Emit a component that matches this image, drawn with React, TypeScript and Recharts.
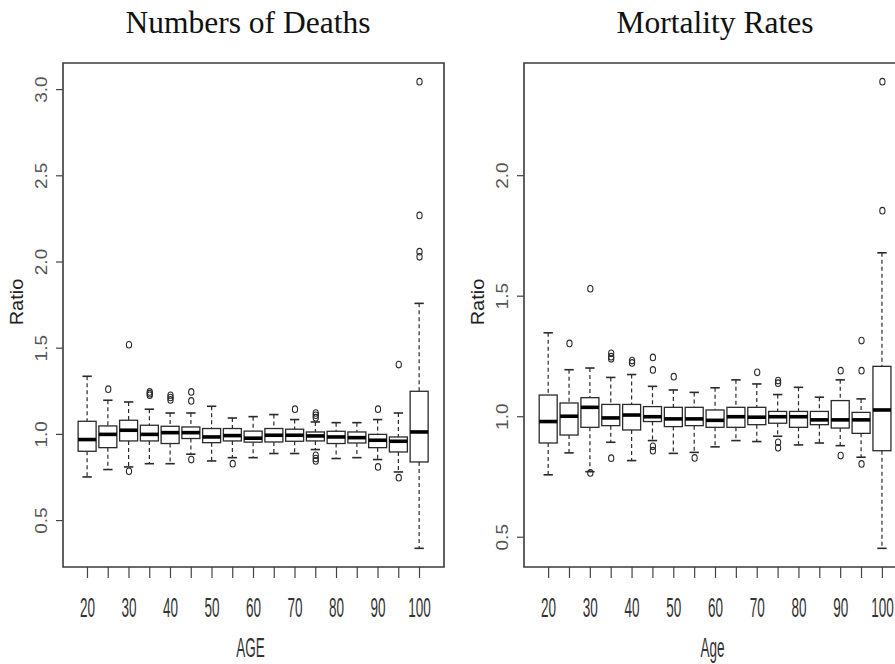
import React from 'react';
import { ComposedChart, Bar, Scatter, XAxis, YAxis, ReferenceArea } from 'recharts';

// Age groups (one box per five-year group)
const AGES = [20, 25, 30, 35, 40, 45, 50, 55, 60, 65, 70, 75, 80, 85, 90, 95, 100];

// Numbers of deaths: whisker ends, quartiles and medians of the ratio
const DEATHS_LOW = [0.753, 0.796, 0.811, 0.83, 0.83, 0.885, 0.846, 0.865, 0.865, 0.889, 0.889, 0.912, 0.86, 0.865, 0.854, 0.782, 0.339];
const DEATHS_Q1 = [0.902, 0.923, 0.962, 0.962, 0.947, 0.976, 0.952, 0.962, 0.955, 0.956, 0.96, 0.962, 0.947, 0.95, 0.923, 0.898, 0.84];
const DEATHS_MEDIAN = [0.97, 1.0, 1.024, 1.0, 1.01, 1.01, 0.985, 0.993, 0.978, 0.995, 0.995, 0.991, 0.985, 0.981, 0.966, 0.96, 1.014];
const DEATHS_Q3 = [1.076, 1.049, 1.082, 1.053, 1.047, 1.043, 1.034, 1.034, 1.019, 1.034, 1.03, 1.014, 1.018, 1.014, 1.0, 0.985, 1.25];
const DEATHS_HIGH = [1.337, 1.198, 1.188, 1.146, 1.124, 1.124, 1.163, 1.095, 1.103, 1.115, 1.086, 1.072, 1.068, 1.068, 1.086, 1.124, 1.76];
const DEATHS_OUTLIERS = [
  { age: 25, value: 1.262 },
  { age: 30, value: 1.52 }, { age: 30, value: 0.786 },
  { age: 35, value: 1.246 }, { age: 35, value: 1.236 }, { age: 35, value: 1.227 },
  { age: 40, value: 1.227 }, { age: 40, value: 1.214 }, { age: 40, value: 1.2 },
  { age: 45, value: 1.246 }, { age: 45, value: 1.194 }, { age: 45, value: 0.854 },
  { age: 55, value: 0.83 },
  { age: 70, value: 1.146 },
  { age: 75, value: 1.124 }, { age: 75, value: 1.111 }, { age: 75, value: 1.097 },
  { age: 75, value: 0.879 }, { age: 75, value: 0.86 }, { age: 75, value: 0.846 },
  { age: 90, value: 1.146 }, { age: 90, value: 0.811 },
  { age: 95, value: 1.405 }, { age: 95, value: 0.749 },
  { age: 100, value: 3.046 }, { age: 100, value: 2.27 }, { age: 100, value: 2.06 }, { age: 100, value: 2.03 },
];

// Mortality rates: whisker ends, quartiles and medians of the ratio
const RATES_LOW = [0.759, 0.85, 0.772, 0.894, 0.818, 0.901, 0.848, 0.852, 0.875, 0.901, 0.897, 0.919, 0.883, 0.891, 0.88, 0.832, 0.454];
const RATES_Q1 = [0.891, 0.924, 0.956, 0.963, 0.945, 0.98, 0.959, 0.963, 0.956, 0.956, 0.967, 0.973, 0.956, 0.967, 0.953, 0.931, 0.859];
const RATES_MEDIAN = [0.98, 1.002, 1.039, 0.995, 1.007, 1.0, 0.991, 0.991, 0.985, 1.0, 0.998, 1.0, 1.0, 0.987, 0.987, 0.987, 1.028];
const RATES_Q3 = [1.09, 1.057, 1.079, 1.051, 1.051, 1.042, 1.039, 1.039, 1.028, 1.039, 1.039, 1.022, 1.022, 1.022, 1.067, 1.018, 1.209];
const RATES_HIGH = [1.348, 1.195, 1.202, 1.163, 1.175, 1.126, 1.111, 1.101, 1.12, 1.153, 1.136, 1.092, 1.122, 1.081, 1.153, 1.074, 1.68];
const RATES_OUTLIERS = [
  { age: 25, value: 1.304 },
  { age: 30, value: 1.531 }, { age: 30, value: 0.767 },
  { age: 35, value: 1.263 }, { age: 35, value: 1.249 }, { age: 35, value: 1.24 }, { age: 35, value: 0.828 },
  { age: 40, value: 1.233 }, { age: 40, value: 1.223 },
  { age: 45, value: 1.246 }, { age: 45, value: 1.194 }, { age: 45, value: 0.877 }, { age: 45, value: 0.859 },
  { age: 50, value: 1.166 },
  { age: 55, value: 0.829 },
  { age: 70, value: 1.184 },
  { age: 75, value: 1.15 }, { age: 75, value: 1.139 }, { age: 75, value: 0.894 }, { age: 75, value: 0.871 },
  { age: 90, value: 1.191 }, { age: 90, value: 0.839 },
  { age: 95, value: 1.316 }, { age: 95, value: 1.191 }, { age: 95, value: 0.804 },
  { age: 100, value: 2.39 }, { age: 100, value: 1.855 },
];

const DEATHS_TICKS = [0.5, 1.0, 1.5, 2.0, 2.5, 3.0];
const RATES_TICKS = [0.5, 1.0, 1.5, 2.0];

type Outlier = { age: number; value: number };

function buildBoxes(low: number[], q1: number[], med: number[], q3: number[], high: number[]) {
  return AGES.map((age, i) => ({
    age,
    whisker: [low[i], high[i]],
    low: low[i],
    q1: q1[i],
    median: med[i],
    q3: q3[i],
    high: high[i],
  }));
}

// Axis ranges padded by 4% on each side, as R does by default
function paddedRange(values: number[]): [number, number] {
  const min = Math.min(...values);
  const max = Math.max(...values);
  const pad = (max - min) * 0.04;
  return [min - pad, max + pad];
}

const X_DOMAIN = paddedRange([AGES[0] - 2.5, AGES[AGES.length - 1] + 2.5]);

const INK = '#2a2a2a';

const BoxShape = (props: any) => {
  const { x, y, width, height, payload } = props;
  if (!payload) return null;
  const { low, high, q1, median, q3 } = payload;
  const top = Math.min(y, y + height);
  const bottom = Math.max(y, y + height);
  const k = (bottom - top) / (high - low);
  const py = (v: number) => top + (high - v) * k;
  const cx = x + width / 2;
  const cap = width * 0.26;
  return (
    <g>
      <line x1={cx} x2={cx} y1={py(high)} y2={py(q3)} stroke={INK} strokeWidth={1.2} strokeDasharray="4 3" />
      <line x1={cx} x2={cx} y1={py(q1)} y2={py(low)} stroke={INK} strokeWidth={1.2} strokeDasharray="4 3" />
      <line x1={cx - cap} x2={cx + cap} y1={py(high)} y2={py(high)} stroke={INK} strokeWidth={1.6} />
      <line x1={cx - cap} x2={cx + cap} y1={py(low)} y2={py(low)} stroke={INK} strokeWidth={1.6} />
      <rect x={x} y={py(q3)} width={width} height={py(q1) - py(q3)} fill="#ffffff" stroke={INK} strokeWidth={1.3} />
      <line x1={x} x2={x + width} y1={py(median)} y2={py(median)} stroke="#000000" strokeWidth={3.6} />
    </g>
  );
};

const OutlierShape = (props: any) => {
  const { cx, cy } = props;
  if (cx == null || cy == null) return null;
  return <ellipse cx={cx} cy={cy} rx={2.6} ry={3.3} fill="none" stroke={INK} strokeWidth={1.1} />;
};

const AgeTick = (props: any) => {
  const { x, y, payload } = props;
  if (payload.value % 10 !== 0) return null;
  return (
    <text
      transform={`translate(${x},${y + 28}) scale(0.5,1)`}
      textAnchor="middle"
      dominantBaseline="central"
      fontFamily="Liberation Sans, Arial, sans-serif"
      fontSize={27}
      fill="#333"
    >
      {payload.value}
    </text>
  );
};

const RatioTick = (props: any) => {
  const { x, y, payload } = props;
  return (
    <text
      transform={`translate(${x - 12},${y}) rotate(-90) scale(1,0.85)`}
      textAnchor="middle"
      dominantBaseline="central"
      fontFamily="Liberation Sans, Arial, sans-serif"
      fontSize={19}
      fill="#555"
    >
      {Number(payload.value).toFixed(1)}
    </text>
  );
};

const makeXLabel = (text: string) => (props: any) => {
  const vb = props.viewBox || {};
  const cx = vb.x + vb.width / 2 - 3;
  const cy = vb.y + 81;
  return (
    <text
      transform={`translate(${cx},${cy}) scale(0.5,1)`}
      textAnchor="middle"
      dominantBaseline="central"
      fontFamily="Liberation Sans, Arial, sans-serif"
      fontSize={27}
      fill="#333"
    >
      {text}
    </text>
  );
};

const YLabel = (props: any) => {
  const vb = props.viewBox || {};
  const cx = vb.x + vb.width - 46;
  const cy = vb.y + vb.height / 2 - 13;
  return (
    <text
      transform={`translate(${cx},${cy}) rotate(-90) scale(1,0.9)`}
      textAnchor="middle"
      dominantBaseline="central"
      fontFamily="Liberation Sans, Arial, sans-serif"
      fontSize={20}
      fill="#222"
    >
      Ratio
    </text>
  );
};

type PanelProps = {
  width: number;
  marginRight: number;
  boxes: ReturnType<typeof buildBoxes>;
  outliers: Outlier[];
  ticks: number[];
  xLabel: string;
};

function BoxPanel({ width, marginRight, boxes, outliers, ticks, xLabel }: PanelProps) {
  const yDomain = paddedRange([
    ...boxes.map((b) => b.low),
    ...boxes.map((b) => b.high),
    ...outliers.map((o) => o.value),
  ]);
  return (
    <ComposedChart
      width={width}
      height={664}
      data={boxes}
      margin={{ top: 63, right: marginRight, bottom: 37, left: 20 }}
    >
      <XAxis
        type="number"
        dataKey="age"
        domain={X_DOMAIN}
        allowDataOverflow
        ticks={AGES}
        interval={0}
        tickSize={11}
        tickLine={{ stroke: '#444', strokeWidth: 1.2 }}
        axisLine={false}
        tick={<AgeTick />}
        height={60}
        label={{ content: makeXLabel(xLabel) }}
      />
      <YAxis
        type="number"
        domain={yDomain}
        allowDataOverflow
        ticks={ticks}
        interval={0}
        tickSize={7}
        tickLine={{ stroke: '#444', strokeWidth: 1.2 }}
        axisLine={false}
        tick={<RatioTick />}
        width={43}
        label={{ content: YLabel }}
      />
      <ReferenceArea
        x1={X_DOMAIN[0]}
        x2={X_DOMAIN[1]}
        y1={yDomain[0]}
        y2={yDomain[1]}
        fill="none"
        stroke="#3a3a3a"
        strokeWidth={1.6}
        ifOverflow="visible"
      />
      <Bar dataKey="whisker" barSize={18} shape={<BoxShape />} isAnimationActive={false} />
      <Scatter data={outliers} dataKey="value" shape={<OutlierShape />} isAnimationActive={false} />
    </ComposedChart>
  );
}

export default function App() {
  const deaths = buildBoxes(DEATHS_LOW, DEATHS_Q1, DEATHS_MEDIAN, DEATHS_Q3, DEATHS_HIGH);
  const rates = buildBoxes(RATES_LOW, RATES_Q1, RATES_MEDIAN, RATES_Q3, RATES_HIGH);
  return (
    <div
      style={{
        position: 'absolute',
        left: 0,
        top: 0,
        width: 895,
        height: 664,
        overflow: 'hidden',
        background: '#ffffff',
      }}
    >
      <svg width={895} height={60} style={{ position: 'absolute', left: 0, top: 0 }}>
        <text x={248} y={33} textAnchor="middle" fontFamily="Liberation Serif, Times New Roman, serif" fontSize={31.5} fill="#111">
          Numbers of Deaths
        </text>
        <text x={715} y={33} textAnchor="middle" fontFamily="Liberation Serif, Times New Roman, serif" fontSize={31.5} fill="#111">
          Mortality Rates
        </text>
      </svg>
      <div style={{ position: 'absolute', left: 0, top: 0 }}>
        <BoxPanel width={450} marginRight={6} boxes={deaths} outliers={DEATHS_OUTLIERS} ticks={DEATHS_TICKS} xLabel="AGE" />
      </div>
      <div style={{ position: 'absolute', left: 461, top: 0 }}>
        <BoxPanel width={460} marginRight={14} boxes={rates} outliers={RATES_OUTLIERS} ticks={RATES_TICKS} xLabel="Age" />
      </div>
    </div>
  );
}
